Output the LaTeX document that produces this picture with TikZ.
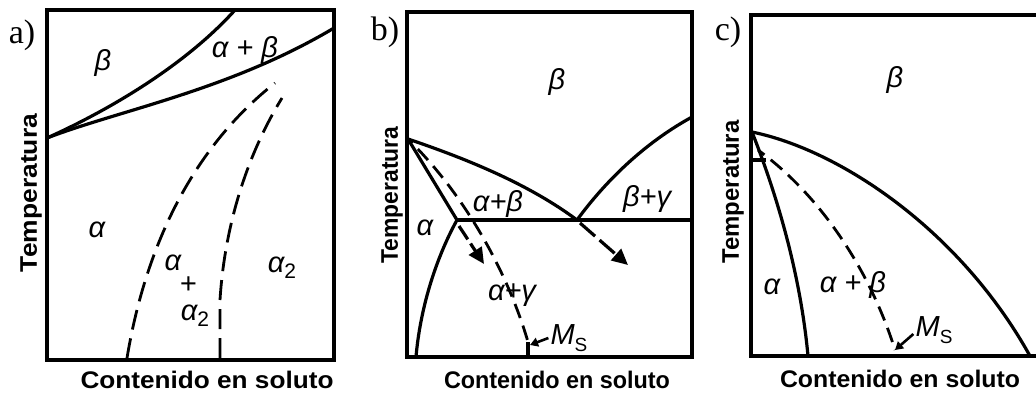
\documentclass[tikz,border=0pt]{standalone}
\usepackage{fontspec}
\setmainfont{Liberation Serif}
\newfontfamily\axfont{Liberation Sans}
\usetikzlibrary{arrows.meta}
\tikzset{
  frame/.style={line width=3.2pt},
  curve/.style={line width=3.2pt},
  dcurve/.style={line width=2.8pt, dash pattern=on 20pt off 9pt},
  dcurveb/.style={line width=2.8pt, dash pattern=on 15pt off 8pt},
  bigarrow/.style={line width=3.2pt, -{Triangle[length=16pt,width=15pt]}},
  msarrow/.style={line width=2.6pt, -{Triangle[length=8pt,width=9pt]}},
  gk/.style={font=\axfont\itshape\fontsize{29}{29}\selectfont, inner sep=0pt},
  panel/.style={font=\fontsize{34}{34}\selectfont, inner sep=0pt},
  axl/.style={font=\axfont\bfseries\fontsize{24}{24}\selectfont, inner sep=0pt},
}
\newcommand{\axtext}[2]{\resizebox{#1}{\height}{#2}}
\newcommand{\subtwo}{\raisebox{-6pt}{\upshape\fontsize{21}{21}\selectfont 2}}
\newcommand{\subS}{\raisebox{-7pt}{\upshape\fontsize{19}{19}\selectfont S}}
\begin{document}
\begin{tikzpicture}[x=1pt,y=-1pt]
\useasboundingbox (0,0) rectangle (1036,394);

% ---------------- panel a ----------------
\draw[frame] (47,10) rectangle (334,360);
\coordinate (aP) at (47,138);
\draw[curve] (aP) .. controls (120,105) and (190,60) .. (235,10);
\draw[curve] (aP) .. controls (120,110) and (230,90) .. (334,28);
\draw[dcurve] (127,358) .. controls (145,250) and (190,150) .. (275,83);
\draw[dcurve] (220,358) -- (220,300) .. controls (225,220) and (250,150) .. (282,98);
\node[panel] (alab) at (22,35) {a)};
\node[gk] (abeta) at (103,63) {β};
\node[gk] (aab) at (245,50) {α + β};
\node[gk] (aal) at (97,230) {α};
\node[gk] (aal1) at (173,263) {α};
\node[gk] (aplus) at (188,285) {+};
\node[gk] (aal2) at (195,316) {α\subtwo};
\node[gk] (aal3) at (282,268) {α\subtwo};
\node[axl, rotate=90] (atemp) at (31,193) {\axtext{158pt}{Temperatura}};
\node[axl] (acont) at (207,380) {\axtext{253pt}{Contenido en soluto}};

% ---------------- panel b ----------------
\draw[frame] (407,12) rectangle (692,357);
\coordinate (bP) at (408,139);
\coordinate (bA) at (457,220);
\coordinate (bE) at (577,220);
\draw[curve] (bP) -- (bA);
\draw[curve] (bP) .. controls (470,160) and (530,185) .. (bE);
\draw[curve] (bA) -- (692,220);
\draw[curve] (bE) .. controls (610,175) and (650,140) .. (692,117);
\draw[curve] (bA) .. controls (435,260) and (420,310) .. (416,357);
\coordinate (bM) at (528,342);
\draw[dcurveb, dash phase=-14pt] (bP) .. controls (470,200) and (510,280) .. (bM);
\draw[curve] (bM) -- (528,357);
\coordinate (ba1) at (459,226);
\coordinate (ba2) at (484,264);
\draw[bigarrow, dash pattern=on 16pt off 5pt] (ba1) -- (ba2);
\coordinate (bb1) at (580,223);
\coordinate (bb2) at (628,265);
\draw[bigarrow, dash pattern=on 20pt off 6pt] (bb1) -- (bb2);
\node[panel] (blab) at (385,32) {b)};
\node[gk] (bbeta) at (557,82) {β};
\node[gk] (bab) at (498,204) {α+β};
\node[gk] (bbg) at (647,199) {β+γ};
\node[gk] (bal) at (425,228) {α};
\node[gk] (bag) at (512,295) {α+γ};
\node[gk] (bms) at (569,338) {M\subS};
\draw[msarrow] (bms.west) ++(-2,0) -- (530,345);
\node[axl, rotate=90] (btemp) at (392,195) {\axtext{137pt}{Temperatura}};
\node[axl] (bcont) at (557,380) {\axtext{226pt}{Contenido en soluto}};

% ---------------- panel c ----------------
\draw[frame] (1036,15) -- (751,15) -- (751,356) -- (1036,356);
\coordinate (cP) at (752,132);
\draw[curve] (cP) .. controls (840,150) and (960,230) .. (1030,356);
\draw[curve] (cP) .. controls (775,190) and (800,270) .. (808,356);
\draw[curve] (751,160) -- (766,160);
\coordinate (cM) at (895,350);
\draw[dcurveb, dash phase=-16pt] (758,150) .. controls (820,195) and (870,270) .. (cM);
\node[panel] (clab) at (728,32) {c)};
\node[gk] (cbeta) at (895,80) {β};
\node[gk] (cal) at (772,287) {α};
\node[gk] (cab) at (853,285) {α + β};
\node[gk] (cms) at (934,330) {M\subS};
\draw[msarrow] (cms.west) ++(-2,4) -- (cM);
\node[axl, rotate=90] (ctemp) at (733,192) {\axtext{143pt}{Temperatura}};
\node[axl] (ccont) at (900,379) {\axtext{240pt}{Contenido en soluto}};
\end{tikzpicture}
\end{document}
